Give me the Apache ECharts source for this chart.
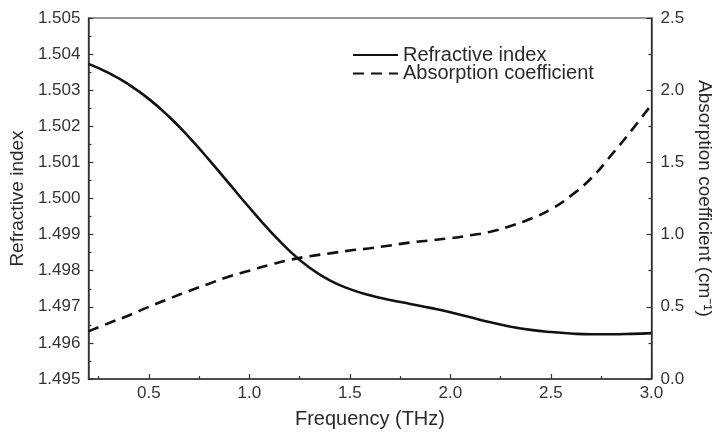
<!DOCTYPE html>
<html>
<head>
<meta charset="utf-8">
<script src="https://cdn.jsdelivr.net/npm/echarts@6/dist/echarts.min.js"></script>
<style>
  html, body { margin: 0; padding: 0; background: #fff; }
  #chart { width: 722px; height: 441px; }
</style>
</head>
<body>
<div id="chart"></div>
<script>
// frequency samples (THz)
var freq = [0.2, 0.3, 0.4, 0.5, 0.6, 0.7, 0.8, 0.9, 1.0, 1.1, 1.2, 1.3, 1.4, 1.5, 1.6,
  1.7, 1.8, 1.9, 2.0, 2.1, 2.2, 2.3, 2.4, 2.5, 2.6, 2.7, 2.8, 2.9, 3.0];

// refractive index (left axis)
var refractiveIndex = [1.50373, 1.50348, 1.50316, 1.50276, 1.50227, 1.50170, 1.50107,
  1.50041, 1.49975, 1.49912, 1.49855, 1.49808, 1.49773, 1.49749, 1.49732, 1.49719,
  1.49708, 1.49697, 1.49685, 1.49671, 1.49657, 1.49645, 1.49636, 1.49630, 1.49626,
  1.49624, 1.49624, 1.49625, 1.49627];

// absorption coefficient, cm^-1 (right axis)
var absorption = [0.33, 0.386, 0.44, 0.50, 0.555, 0.61, 0.66, 0.71, 0.75, 0.79, 0.825,
  0.85, 0.87, 0.89, 0.905, 0.925, 0.945, 0.96, 0.975, 0.995, 1.02, 1.06, 1.11, 1.175,
  1.27, 1.39, 1.55, 1.72, 1.90];

var xMajorTicks = [0.5, 1.0, 1.5, 2.0, 2.5, 3.0];
var xMinorTicks = [0.25, 0.75, 1.25, 1.75, 2.25, 2.75];

var FONT = '"Liberation Sans", Arial, sans-serif';
var AXIS_COLOR = '#333';
var TEXT_COLOR = '#2a2a2a';

function pairs(xs, ys) {
  return xs.map(function (x, i) { return [x, ys[i]]; });
}

var chart = echarts.init(document.getElementById('chart'));

var option = {
  animation: false,
  backgroundColor: '#fff',
  textStyle: { fontFamily: FONT },
  grid: {
    left: 87, right: 69, top: 18, bottom: 62,
    show: true, borderColor: AXIS_COLOR, borderWidth: 1.2,
    containLabel: false
  },
  legend: {
    left: 352, top: 45, padding: 0,
    orient: 'vertical',
    itemWidth: 45, itemHeight: 2, itemGap: -1.5,
    itemStyle: { opacity: 0 },
    textStyle: { fontSize: 20, color: TEXT_COLOR, fontFamily: FONT },
    data: ['Refractive index', 'Absorption coefficient']
  },
  xAxis: [
    {
      type: 'value', min: 0.2, max: 3.0,
      name: 'Frequency (THz)', nameLocation: 'middle', nameGap: 30,
      nameTextStyle: { fontSize: 20, color: TEXT_COLOR },
      axisLine: { show: true, onZero: false, lineStyle: { color: AXIS_COLOR, width: 1.5 } },
      axisTick: { show: true, inside: true, length: 5, customValues: xMajorTicks,
        lineStyle: { color: AXIS_COLOR, width: 1.2 } },
      axisLabel: { customValues: xMajorTicks, fontSize: 17, color: '#333', margin: 6,
        formatter: function (v) { return v.toFixed(1); } },
      splitLine: { show: false }
    },
    {
      // minor ticks only
      type: 'value', min: 0.2, max: 3.0, position: 'bottom',
      axisLine: { show: false },
      axisTick: { show: true, inside: true, length: 3, customValues: xMinorTicks,
        lineStyle: { color: AXIS_COLOR, width: 1.2 } },
      axisLabel: { show: false },
      splitLine: { show: false }
    }
  ],
  yAxis: [
    {
      type: 'value', min: 1.495, max: 1.505, interval: 0.001,
      name: 'Refractive index', nameLocation: 'middle', nameGap: 58,
      nameTextStyle: { fontSize: 19, color: TEXT_COLOR },
      axisLine: { show: true, lineStyle: { color: AXIS_COLOR, width: 1.5 } },
      axisTick: { show: true, inside: true, length: 5, lineStyle: { color: AXIS_COLOR, width: 1.2 } },
      minorTick: { show: true, splitNumber: 2, length: 3, lineStyle: { color: AXIS_COLOR, width: 1.2 } },
      axisLabel: { fontSize: 17, color: '#333', margin: 8,
        formatter: function (v) { return v.toFixed(3); } },
      splitLine: { show: false }
    },
    {
      type: 'value', min: 0, max: 2.5, interval: 0.5, position: 'right',
      name: 'Absorption coefficient (cm\u207B\u00B9)', nameLocation: 'middle', nameGap: 36,
      nameRotate: -90,
      nameTextStyle: { fontSize: 19, color: TEXT_COLOR },
      axisLine: { show: true, lineStyle: { color: AXIS_COLOR, width: 1.5 } },
      axisTick: { show: true, inside: true, length: 5, lineStyle: { color: AXIS_COLOR, width: 1.2 } },
      minorTick: { show: true, splitNumber: 2, length: 3, lineStyle: { color: AXIS_COLOR, width: 1.2 } },
      axisLabel: { fontSize: 17, color: '#333', margin: 9,
        formatter: function (v) { return v.toFixed(1); } },
      splitLine: { show: false }
    }
  ],
  series: [
    {
      name: 'Refractive index',
      type: 'line',
      xAxisIndex: 0, yAxisIndex: 0,
      data: pairs(freq, refractiveIndex),
      smooth: 0.5,
      symbol: 'none',
      lineStyle: { color: '#111', width: 2.6, type: 'solid' },
      itemStyle: { color: '#111' }
    },
    {
      name: 'Absorption coefficient',
      type: 'line',
      xAxisIndex: 0, yAxisIndex: 1,
      data: pairs(freq, absorption),
      smooth: 0.5,
      symbol: 'none',
      lineStyle: { color: '#111', width: 2.6, type: [11, 7] },
      itemStyle: { color: '#111' }
    }
  ]
};

chart.setOption(option);
</script>
</body>
</html>
